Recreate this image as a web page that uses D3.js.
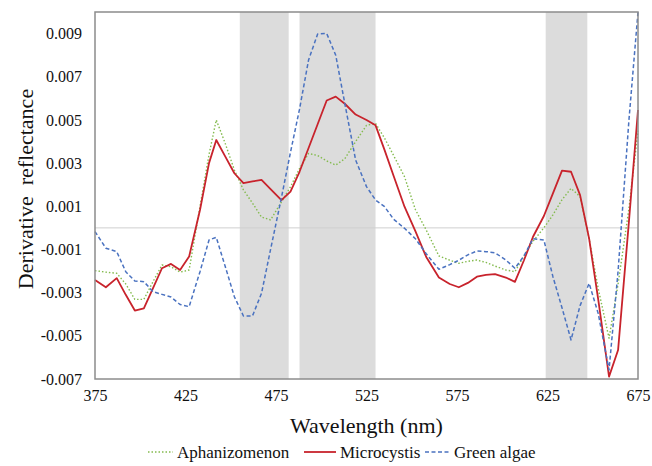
<!DOCTYPE html>
<html>
<head>
<meta charset="utf-8">
<script src="https://cdn.jsdelivr.net/npm/d3@7"></script>
<style>
  body { margin: 0; background: #fff; }
</style>
</head>
<body>
<div id="chart"></div>
<script>
const width = 652,
  height = 466,
  margin = { top: 12, right: 14, bottom: 87, left: 95 };

const serif = '"Liberation Serif", "Times New Roman", Times, "Tinos", "Nimbus Roman", "FreeSerif", "DejaVu Serif", serif';

// wavelengths (nm) of the sampled points
const wavelength = [375,381,387,392,397,402,407,412,417,422,427,433,438,442,447,452,457,462,467,472,
  478,483,488,493,498,503,508,513,519,525,530,535,540,546,552,558,565,571,576,581,
  586,591,596,602,607,612,617,623,628,633,638,643,648,653,659,664,670,675];

// derivative reflectance, in units of 0.001
const aphanizomenon = [-1.98,-2.05,-2.1,-2.6,-3.31,-3.31,-2.5,-1.72,-1.8,-2.05,-1.95,0.98,3.4,5.0,3.9,2.68,1.76,1.15,0.5,0.37,
  1.2,1.9,2.75,3.45,3.35,3.1,2.91,3.2,4.0,4.75,4.84,4.15,3.35,2.37,0.85,-0.1,-1.3,-1.5,-1.64,-1.55,
  -1.49,-1.6,-1.77,-1.95,-2.03,-1.3,-0.62,0.0,0.6,1.3,1.83,1.45,-0.5,-2.8,-5.11,-2.6,0.9,4.5];
const microcystis = [-2.41,-2.75,-2.33,-3.1,-3.83,-3.73,-2.8,-1.87,-1.67,-1.95,-1.33,0.83,3.0,4.07,3.3,2.53,2.07,2.15,2.22,1.8,
  1.29,1.68,2.6,3.7,4.8,5.9,6.08,5.75,5.25,5.0,4.75,3.6,2.4,0.98,-0.15,-1.35,-2.3,-2.6,-2.75,-2.55,
  -2.26,-2.18,-2.14,-2.3,-2.5,-1.5,-0.41,0.55,1.6,2.65,2.6,1.52,-0.5,-3.3,-6.89,-5.66,0.3,5.46];
const greenAlgae = [-0.17,-0.94,-1.1,-2.03,-2.46,-2.49,-2.95,-3.08,-3.2,-3.55,-3.65,-2.03,-0.56,-0.44,-1.8,-3.19,-4.08,-4.08,-3.03,-1.0,
  1.4,3.5,5.5,7.78,8.98,9.01,8.0,5.77,3.14,1.91,1.29,0.98,0.4,-0.02,-0.5,-1.2,-1.92,-1.7,-1.5,-1.25,
  -1.07,-1.1,-1.15,-1.49,-1.87,-1.3,-0.5,-0.56,-2.26,-3.7,-5.19,-3.6,-2.57,-3.96,-6.58,-2.0,5.0,10.0];

// highlighted wavelength bands
const bands = [[455, 482], [488, 530], [624, 647]];

const xTicks = [375, 425, 475, 525, 575, 625, 675];
const yTicks = [-0.007, -0.005, -0.003, -0.001, 0.001, 0.003, 0.005, 0.007, 0.009];

const series = [
  { name: 'Aphanizomenon', values: aphanizomenon, color: '#84bb4f', width: 1.4, dash: '1.5,2' },
  { name: 'Microcystis', values: microcystis, color: '#c8232c', width: 1.8, dash: null },
  { name: 'Green algae', values: greenAlgae, color: '#4a72c0', width: 1.5, dash: '4,2.5' }
];

const innerwidth = width - margin.left - margin.right;
const innerheight = height - margin.top - margin.bottom;

const svg = d3.select('#chart').append('svg')
  .attr('width', width)
  .attr('height', height)
  .attr('font-family', serif);

const x = d3.scaleLinear().domain([375, 675]).range([margin.left, margin.left + innerwidth]);
const y = d3.scaleLinear().domain([-0.007, 0.010]).range([margin.top + innerheight, margin.top]);

// bands
svg.selectAll('.band')
  .data(bands)
  .join('rect')
  .attr('class', 'band')
  .attr('x', d => x(d[0]))
  .attr('y', margin.top)
  .attr('width', d => x(d[1]) - x(d[0]))
  .attr('height', innerheight)
  .attr('fill', '#dcdcdc');

// zero line
svg.append('line')
  .attr('x1', x(375)).attr('x2', x(675))
  .attr('y1', y(0)).attr('y2', y(0))
  .attr('stroke', '#cfcfcf')
  .attr('stroke-width', 1);

// lines
const line = d3.line()
  .x((d, i) => x(wavelength[i]))
  .y(d => y(d / 1000));

svg.selectAll('.series')
  .data(series)
  .join('path')
  .attr('class', 'series')
  .attr('d', d => line(d.values))
  .attr('fill', 'none')
  .attr('stroke', d => d.color)
  .attr('stroke-width', d => d.width)
  .attr('stroke-dasharray', d => d.dash)
  .attr('stroke-linejoin', 'round');

// frame
svg.append('rect')
  .attr('x', margin.left)
  .attr('y', margin.top)
  .attr('width', innerwidth)
  .attr('height', innerheight)
  .attr('fill', 'none')
  .attr('stroke', '#8c8c8c')
  .attr('stroke-width', 1.5);

// axes
const fmt = d3.format('.3f');
const xAxis = svg.append('g')
  .attr('transform', `translate(0,${margin.top + innerheight})`)
  .call(d3.axisBottom(x).tickValues(xTicks).tickSize(0).tickPadding(11).tickFormat(d3.format('d')));
xAxis.select('.domain').remove();
xAxis.selectAll('text').style('font-family', serif).style('font-size', '16px').attr('fill', '#111');

const yAxis = svg.append('g')
  .attr('transform', `translate(${margin.left},0)`)
  .call(d3.axisLeft(y).tickValues(yTicks).tickSize(0).tickPadding(13)
    .tickFormat(d => fmt(d).replace('\u2212', '-')));
yAxis.select('.domain').remove();
yAxis.selectAll('text').style('font-family', serif).style('font-size', '16px').attr('fill', '#111');

// axis titles
svg.append('text')
  .attr('x', x(525))
  .attr('y', 433)
  .attr('text-anchor', 'middle')
  .style('font-family', serif)
  .style('font-size', '22px')
  .attr('fill', '#111')
  .text('Wavelength (nm)');

svg.append('text')
  .attr('transform', 'translate(33,189) rotate(-90)')
  .attr('text-anchor', 'middle')
  .style('font-family', serif)
  .style('font-size', '22px')
  .style('white-space', 'pre')
  .attr('fill', '#111')
  .text('Derivative  reflectance');

// legend
const legendItems = [
  { s: series[0], x: 148, len: 25 },
  { s: series[1], x: 304, len: 32 },
  { s: series[2], x: 425, len: 25 }
];
const legend = svg.selectAll('.legend')
  .data(legendItems)
  .join('g')
  .attr('class', 'legend')
  .attr('transform', d => `translate(${d.x},452)`);

legend.append('line')
  .attr('x1', 0).attr('x2', d => d.len)
  .attr('stroke', d => d.s.color)
  .attr('stroke-width', d => d.s.width)
  .attr('stroke-dasharray', d => d.s.dash);

legend.append('text')
  .attr('x', d => d.len + 4)
  .attr('dy', '0.35em')
  .style('font-family', serif)
  .style('font-size', '17px')
  .attr('fill', '#111')
  .text(d => d.s.name);
</script>
</body>
</html>
